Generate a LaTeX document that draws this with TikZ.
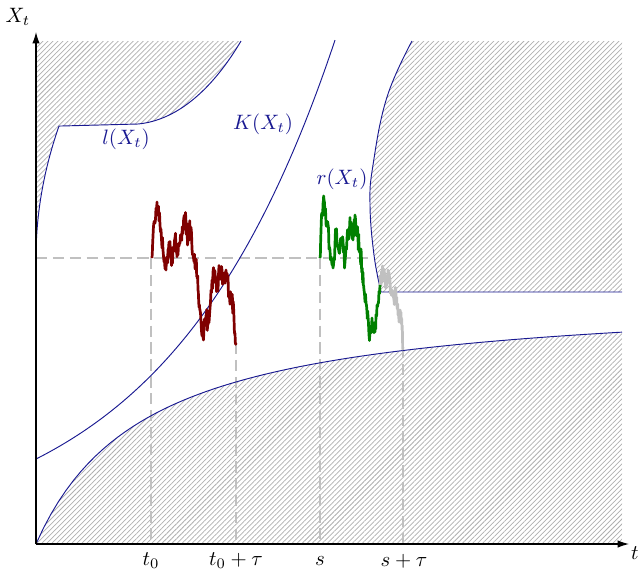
\documentclass[tikz,border=0pt]{standalone}
\usetikzlibrary{arrows.meta,patterns.meta}
\definecolor{curveblue}{RGB}{25,25,145}
\definecolor{pathred}{RGB}{128,0,0}
\definecolor{pathgreen}{RGB}{0,128,0}
\definecolor{guide}{RGB}{192,192,192}
\definecolor{hatch}{RGB}{175,175,175}
\tikzset{
  hatched/.style={pattern={Lines[angle=45,distance=1.7pt,line width=0.35pt]},pattern color=hatch},
  bound/.style={curveblue,line width=0.45pt},
  guideline/.style={guide,line width=0.95pt,dash pattern=on 5.5pt off 2.6pt},
  walk/.style={line width=1.3pt,line join=round},
  axis/.style={line width=0.55pt,-{Latex[length=5.5pt,width=3.6pt]}},
  lbl/.style={inner sep=0pt},
  blbl/.style={inner sep=0pt,text=curveblue}
}
\begin{document}
\begin{tikzpicture}[x=0.48pt,y=-0.48pt]
\useasboundingbox (0,0) rectangle (640,570);
\pgfmathsetseed{11}
% named points
\coordinate (O) at (36,544);
\coordinate (Ytop) at (36,32);
\coordinate (Xend) at (629,544);
\coordinate (H0) at (36,258);
\coordinate (Hend) at (373,258);
\coordinate (T0top) at (151,258);
\coordinate (T0b) at (151,544);
\coordinate (T1top) at (236,343);
\coordinate (T1b) at (236,544);
\coordinate (Stop) at (320,258);
\coordinate (Sb) at (320,544);
\coordinate (S1top) at (403,347);
\coordinate (S1b) at (403,544);
% hatched regions
\fill[hatched] (36,41) -- (36,258)
  -- plot[domain=0:1,samples=30,variable=\u] ({36+23*\u*\u},{258-132*\u})
  -- (138,124) .. controls (180,120) and (215,85) .. (241,41) -- cycle;
\fill[hatched] (412,41)
  -- plot[smooth,tension=0.7] coordinates {(412,41) (387,97) (373,165) (370,205) (374,255) (381,292)}
  -- (622,292) -- (622,41) -- cycle;
\fill[hatched] (36,544)
  -- plot[domain=0:586,samples=80,variable=\v] ({\v+36},{544-252*(\v/(\v+111))})
  -- (622,544) -- cycle;
% guide lines
\draw[guideline] (H0) -- (Hend);
\draw[guideline] (T0top) -- (T0b);
\draw[guideline] (T1top) -- (T1b);
\draw[guideline] (Stop) -- (Sb);
\draw[guideline] (S1top) -- (S1b);
% boundary curves
\draw[bound] plot[domain=0:1,samples=30,variable=\u] ({36+23*\u*\u},{258-132*\u})
  -- (138,124) .. controls (180,120) and (215,85) .. (241,41);
\draw[bound] plot[domain=36:335,samples=80,variable=\w] (\w,{544-85*exp((\w-36)/168)});
\draw[bound] plot[smooth,tension=0.7] coordinates {(412,41) (387,97) (373,165) (370,205) (374,255) (381,292)}
  -- (622,292);
\draw[bound] plot[domain=0:586,samples=80,variable=\v] ({\v+36},{544-252*(\v/(\v+111))});
% random paths
\draw[walk,pathred] (152,258) \foreach \xb/\yb [remember=\xb as \xa (initially 152), remember=\yb as \ya (initially 258)] in
 {154/222,157/202,160/225,163/250,166/270,169/242,172/262,175/238,178/255,181/240,185/218,188/240,190/228,193/255,196/262,198/290,200/310,203/337,206/315,208/325,211/290,214/275,217/288,220/268,223/282,226/270,229/292,232/300,234/318,236/343}
 { \foreach \k in {1,...,5} { -- ({\xa+(\xb-\xa)*\k/6},{\ya+(\yb-\ya)*\k/6+10*rand}) } -- (\xb,\yb) };
\draw[walk,guide] (380,285) \foreach \xb/\yb [remember=\xb as \xa (initially 380), remember=\yb as \ya (initially 285)] in
 {383/272,386/285,388/270,391/290,394/300,396/295,398/315,400/310,402/330,403/347}
 { \foreach \k in {1,...,5} { -- ({\xa+(\xb-\xa)*\k/6},{\ya+(\yb-\ya)*\k/6+10*rand}) } -- (\xb,\yb) };
\draw[walk,pathgreen] (320,258) \foreach \xb/\yb [remember=\xb as \xa (initially 320), remember=\yb as \ya (initially 258)] in
 {322/215,324/200,327/225,330/250,333/268,336/232,339/252,342/243,345/262,348/235,351/222,353/240,355/215,358/238,360/250,362/268,364/290,367/312,369/335,372/318,375/332,377/305,380/285}
 { \foreach \k in {1,...,5} { -- ({\xa+(\xb-\xa)*\k/6},{\ya+(\yb-\ya)*\k/6+10*rand}) } -- (\xb,\yb) };
% axes
\draw[axis] (O) -- (Ytop);
\draw[axis] (O) -- (Xend);
% labels
\node[lbl] (ylab) at (18,17) {$X_t$};
\node[lbl] (xlab) at (635,553) {$t$};
\node[blbl] (llab) at (126,139) {$l(X_t)$};
\node[blbl] (klab) at (263,124) {$K(X_t)$};
\node[blbl] (rlab) at (342,179) {$r(X_t)$};
\node[lbl] (t0lab) at (151,561) {$t_0$};
\node[lbl] (t1lab) at (236,561) {$t_0+\tau$};
\node[lbl] (slab) at (320,561) {$s$};
\node[lbl] (s1lab) at (404,561) {$s+\tau$};
\end{tikzpicture}
\end{document}
